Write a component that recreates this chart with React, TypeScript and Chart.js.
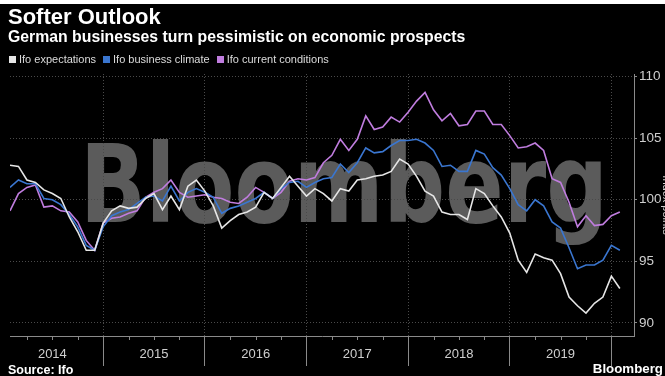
import React, { useEffect, useRef } from 'react';
import { Chart, registerables } from 'chart.js';

Chart.register(...registerables);

// Monthly Ifo indices (2015 = 100), Jan 2014 – Jan 2020
const yearLabels = ['2014', '2015', '2016', '2017', '2018', '2019'];
const yTicks = [90, 95, 100, 105, 110];
const seriesNames = ['Ifo expectations', 'Ifo business climate', 'Ifo current conditions'];
const seriesColors = ['#e6e6e6', '#3a76d0', '#c07ddf'];

const expectations = [
  102.8, 102.7, 101.6, 101.4, 100.8, 100.5, 100.1, 98.6, 97.4, 95.9, 95.9, 98.1,
  99.1, 99.5, 99.3, 99.4, 100.1, 100.5, 99.2, 100.3, 99.2, 101.1, 101.6, 100.7,
  99.5, 97.7, 98.3, 98.8, 99.0, 99.4, 100.6, 100.1, 101.0, 101.9, 101.1, 100.3,
  100.9, 100.5, 99.9, 100.9, 100.7, 101.6, 101.7, 101.9, 102.0, 102.3, 103.3, 102.9,
  101.9, 100.7, 100.3, 99.0, 98.8, 98.8, 98.4, 100.9, 100.5, 99.5, 98.6, 97.3,
  95.1, 94.1, 95.6, 95.3, 95.1, 94.0, 92.1, 91.4, 90.8, 91.6, 92.1, 93.8,
  92.8,
];

const businessClimate = [
  101.0, 101.6, 101.3, 101.3, 100.1, 100.0, 99.6, 98.8, 97.8, 96.3, 95.9, 97.8,
  98.7, 99.0, 99.2, 99.7, 100.2, 100.3, 99.9, 101.1, 99.9, 100.6, 100.9, 100.6,
  100.2, 98.9, 99.3, 99.5, 99.8, 100.1, 100.6, 100.1, 100.9, 101.4, 101.5, 101.0,
  101.4, 101.7, 101.8, 102.9, 102.2, 103.0, 104.2, 103.8, 103.9, 104.4, 104.8, 104.8,
  104.9, 104.6, 104.0, 102.7, 102.8, 102.3, 102.3, 104.0, 103.7, 102.6, 102.0, 100.9,
  99.6, 99.1, 100.0, 99.5, 98.2, 97.7, 96.1, 94.4, 94.7, 94.7, 95.1, 96.3,
  95.9,
];

const currentConditions = [
  99.1, 100.5, 101.0, 101.2, 99.4, 99.5, 99.1, 99.0, 98.2, 96.7, 95.9, 98.1,
  98.5, 98.6, 98.9, 99.1, 100.2, 100.6, 100.9, 101.6, 100.6, 100.2, 100.3, 100.4,
  100.2, 100.1, 99.8, 99.7, 100.2, 101.0, 100.6, 100.1, 100.6, 101.5, 101.7, 101.6,
  101.8, 103.0, 103.6, 104.9, 104.0, 104.9, 106.8, 105.7, 105.9, 106.7, 106.3, 107.1,
  108.0, 108.7, 107.3, 106.4, 107.0, 106.0, 106.1, 107.2, 107.2, 106.1, 106.1, 105.2,
  104.2, 104.3, 104.6, 104.0, 101.7, 101.4, 99.8, 97.8, 98.7, 97.9, 98.0, 98.7,
  99.0,
];

const seriesValues = [expectations, businessClimate, currentConditions];

// x = months elapsed since 1 Jan 2014, each monthly reading plotted at month end
const toPoints = (vals: number[]) => vals.map((v, i) => ({ x: i + 1, y: v }));

const NARROW = '"Liberation Sans Narrow", "Liberation Sans", Arial, sans-serif';
const AXIS_GRAY = '#8a8a8a';
const GRID_GRAY = '#4a4a4a';

const backgroundPlugin = {
  id: 'bgWatermark',
  beforeDraw(chart: any) {
    const { ctx, width, height } = chart;
    ctx.save();
    ctx.fillStyle = '#000';
    ctx.fillRect(0, 0, width, height);
    ctx.fillStyle = '#5b5b5b';
    ctx.font = 'bold 108px "DejaVu Sans", "Liberation Sans", sans-serif';
    ctx.textBaseline = 'alphabetic';
    ctx.textAlign = 'left';
    ctx.fillText('Bloomberg', 80, 222, 528);
    ctx.restore();
  },
};

const quarterTicksPlugin = {
  id: 'quarterTicks',
  afterDraw(chart: any) {
    const xs = chart.scales.x;
    const { ctx, chartArea } = chart;
    ctx.save();
    ctx.strokeStyle = AXIS_GRAY;
    ctx.lineWidth = 1;
    for (let m = 3; m < xs.max; m += 3) {
      if (m % 12 === 0 || m < xs.min) continue;
      const px = Math.round(xs.getPixelForValue(m)) + 0.5;
      ctx.beginPath();
      ctx.moveTo(px, chartArea.bottom);
      ctx.lineTo(px, chartArea.bottom + 4);
      ctx.stroke();
    }
    ctx.restore();
  },
};

function SofterOutlookChart() {
  const ref = useRef<HTMLCanvasElement | null>(null);

  useEffect(() => {
    if (!ref.current) return;
    const chart = new Chart(ref.current, {
      type: 'line',
      data: {
        datasets: seriesNames.map((name, i) => ({
          label: name,
          data: toPoints(seriesValues[i]),
          borderColor: seriesColors[i],
          backgroundColor: seriesColors[i],
          borderWidth: 1.6,
          pointRadius: 0,
          tension: 0,
        })),
      },
      options: {
        responsive: false,
        animation: false,
        events: [],
        layout: { padding: { top: 74, left: 10, right: 7, bottom: 15 } },
        plugins: {
          legend: { display: false },
          tooltip: { enabled: false },
        },
        scales: {
          x: {
            type: 'linear',
            min: 1,
            max: 74.67,
            afterBuildTicks: (s: any) => {
              s.ticks = yearLabels.map((_, i) => ({ value: (i + 1) * 12 }));
            },
            afterFit: (s: any) => {
              s.height = 25;
            },
            ticks: {
              autoSkip: false,
              maxRotation: 0,
              minRotation: 0,
              color: '#cfcfcf',
              font: { family: NARROW, size: 13 },
              padding: -19,
              labelOffset: -50.8,
              callback: (v: any) => yearLabels[Math.round(Number(v) / 12) - 1] ?? '',
            },
            grid: {
              color: GRID_GRAY,
              lineWidth: 1,
              tickLength: 30,
              tickColor: AXIS_GRAY,
              tickWidth: 1,
              tickBorderDash: [],
            },
            border: { display: true, color: AXIS_GRAY, width: 1, dash: [1, 2] },
          },
          y: {
            position: 'right',
            min: 88.945,
            max: 110.2,
            afterBuildTicks: (s: any) => {
              s.ticks = yTicks.map((v) => ({ value: v }));
            },
            afterFit: (s: any) => {
              s.width = 39;
            },
            ticks: {
              color: '#cfcfcf',
              font: { family: NARROW, size: 13.5 },
              padding: 2,
              callback: (v: any) => String(v),
            },
            grid: {
              color: GRID_GRAY,
              lineWidth: 1,
              tickLength: 3,
              tickColor: AXIS_GRAY,
              tickBorderDash: [],
            },
            border: { display: true, color: AXIS_GRAY, width: 1, dash: [1, 2] },
            title: {
              display: true,
              text: 'Index points',
              color: '#d0d0d0',
              font: { family: NARROW, size: 11 },
              padding: 0,
            },
          },
        },
      },
      plugins: [backgroundPlugin, quarterTicksPlugin],
    } as any);
    return () => chart.destroy();
  }, []);

  return <canvas ref={ref} width={680} height={376} style={{ position: 'absolute', left: 0, top: 0, width: 680, height: 376 }} />;
}

export default function App() {
  const bold = '"Liberation Sans", Arial, sans-serif';
  return (
    <div style={{ position: 'fixed', left: 0, top: 0, width: 665, height: 376, overflow: 'hidden', background: '#000' }}>
      <SofterOutlookChart />
      <div style={{ position: 'absolute', left: 0, top: 0, width: 665, height: 4, background: '#fff' }} />
      <div style={{ position: 'absolute', left: 8, top: 6, fontFamily: bold, fontWeight: 700, fontSize: 22, lineHeight: 1, color: '#fff', whiteSpace: 'nowrap' }}>
        Softer Outlook
      </div>
      <div style={{ position: 'absolute', left: 8, top: 29, fontFamily: bold, fontWeight: 700, fontSize: 15.8, lineHeight: 1, color: '#fff', whiteSpace: 'nowrap' }}>
        German businesses turn pessimistic on economic prospects
      </div>
      <div style={{ position: 'absolute', left: 9, top: 52, display: 'flex', alignItems: 'center', fontFamily: NARROW, fontSize: 11, lineHeight: '14px', color: '#dcdcdc', whiteSpace: 'nowrap' }}>
        {seriesNames.map((n, i) => (
          <span key={n} style={{ display: 'inline-flex', alignItems: 'center', marginRight: 7 }}>
            <span style={{ display: 'inline-block', width: 7, height: 7, background: seriesColors[i], marginRight: 3 }} />
            {n}
          </span>
        ))}
      </div>
      <div style={{ position: 'absolute', left: 8, top: 364, fontFamily: bold, fontWeight: 700, fontSize: 12.5, lineHeight: 1, color: '#fff', whiteSpace: 'nowrap' }}>
        Source: Ifo
      </div>
      <div style={{ position: 'absolute', right: 2, top: 362, fontFamily: bold, fontWeight: 700, fontSize: 13.3, lineHeight: 1, color: '#fff', whiteSpace: 'nowrap' }}>
        Bloomberg
      </div>
    </div>
  );
}
